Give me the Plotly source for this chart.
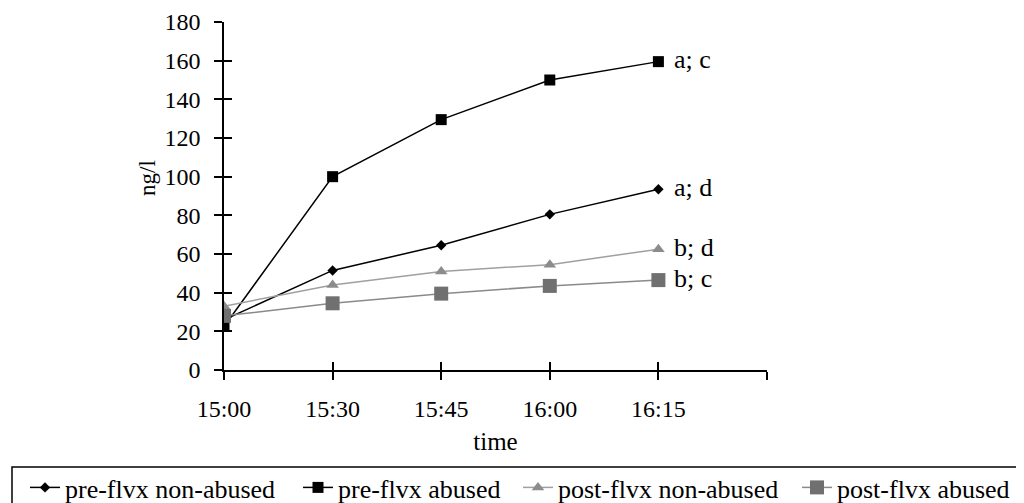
import plotly.graph_objects as go

categories = ["15:00", "15:30", "15:45", "16:00", "16:15"]
pre_non_abused = [26, 51.5, 64.5, 80.5, 93.5]
pre_abused = [22.5, 100, 129.5, 150, 159.5]
post_non_abused = [33, 44, 51, 54.5, 62.5]
post_abused = [28, 34.5, 39.5, 43.5, 46.5]
labels = ["a; d", "a; c", "b; d", "b; c"]
names = ["pre-flvx non-abused", "pre-flvx abused", "post-flvx non-abused", "post-flvx abused"]
y_ticks = [0, 20, 40, 60, 80, 100, 120, 140, 160, 180]

xpos = list(range(len(categories)))
FONT = "Liberation Serif"

# page body has an 8px margin; figure sized to fill the visible window
OFF = 8
W, H = 1024 - OFF, 503 - OFF
ML, MT = 224 - OFF, 22 - OFF
PW, PH = 543, 348
MR, MB = W - ML - PW, H - MT - PH


def px_to_paper_x(px):
    return (px - OFF - ML) / PW


def px_to_paper_y(py):
    return (MT + PH - (py - OFF)) / PH


series = [
    (names[0], pre_non_abused, dict(symbol="diamond", size=8, color="black"), dict(color="black", width=1.5)),
    (names[1], pre_abused, dict(symbol="square", size=11, color="black"), dict(color="black", width=1.5)),
    (names[2], post_non_abused, dict(symbol="triangle-up", size=11, color="#8c8c8c"), dict(color="#a0a0a0", width=1.5)),
    (names[3], post_abused, dict(symbol="square", size=14, color="#707070"), dict(color="#8a8a8a", width=1.5)),
]
legend_ids = ["legend", "legend2", "legend3", "legend4"]
legend_left_page = [25, 298, 518, 797]

fig = go.Figure()
for (name, ys, mk, ln), lid in zip(series, legend_ids):
    fig.add_trace(go.Scatter(x=xpos, y=ys, mode="lines+markers", name=name,
                             marker=mk, line=ln, legend=lid))

annotations = []
for (name, ys, mk, ln), lab in zip(series, labels):
    annotations.append(dict(x=xpos[-1], y=ys[-1], text=lab, showarrow=False,
                            xanchor="left", xshift=14, yshift=2,
                            font=dict(family=FONT, size=26, color="black")))
annotations.append(dict(xref="paper", yref="paper", x=px_to_paper_x(147), y=px_to_paper_y(178),
                        text="ng/l", textangle=-90, showarrow=False,
                        xanchor="center", yanchor="middle",
                        font=dict(family=FONT, size=23, color="black")))

tickvals_x = xpos + [len(categories)]
ticktext_x = categories + [""]

common = dict(showgrid=False, zeroline=False, showline=True, linecolor="black", linewidth=1.5)

legend_layouts = {}
for lid, lx in zip(legend_ids, legend_left_page):
    legend_layouts[lid] = dict(orientation="h", xref="container", yref="container",
                               x=(lx - OFF) / W, y=1 - (464 - OFF) / H, xanchor="left", yanchor="top",
                               borderwidth=0, bgcolor="rgba(0,0,0,0)",
                               font=dict(family=FONT, size=26, color="black"))

fig.update_layout(
    width=W, height=H,
    margin=dict(l=ML, r=MR, t=MT, b=MB, autoexpand=False),
    paper_bgcolor="white", plot_bgcolor="white",
    font=dict(family=FONT, size=24, color="black"),
    xaxis=dict(range=[0, len(categories)], tickmode="array", tickvals=tickvals_x, ticktext=ticktext_x,
               ticks="outside", ticklen=8, tickwidth=1.5, tickcolor="black",
               ticklabelstandoff=8, tickfont=dict(family=FONT, size=24),
               title=dict(text="time", font=dict(family=FONT, size=25), standoff=12), **common),
    yaxis=dict(range=[0, 180], tickmode="array", tickvals=y_ticks,
               ticks="outside", ticklen=8, tickwidth=1.5, tickcolor="black",
               ticklabelstandoff=9, tickfont=dict(family=FONT, size=24), **common),
    xaxis2=dict(range=[0, len(categories)], overlaying="x", anchor="y2", side="bottom",
                tickmode="array", tickvals=tickvals_x, ticks="inside", ticklen=8, tickwidth=1.5,
                tickcolor="black", showticklabels=False, **common),
    yaxis2=dict(range=[0, 180], overlaying="y", anchor="x2", side="left",
                tickmode="array", tickvals=y_ticks, ticks="inside", ticklen=8, tickwidth=1.5,
                tickcolor="black", showticklabels=False, **common),
    annotations=annotations,
    showlegend=True,
    shapes=[dict(type="rect", xref="paper", yref="paper",
                 x0=px_to_paper_x(12), x1=px_to_paper_x(1045),
                 y0=px_to_paper_y(467), y1=px_to_paper_y(540),
                 line=dict(color="black", width=1.5), fillcolor="rgba(0,0,0,0)")],
    **legend_layouts,
)
fig.add_trace(go.Scatter(x=[], y=[], xaxis="x2", yaxis="y2", showlegend=False, hoverinfo="skip"))

fig.write_html("out.html")
